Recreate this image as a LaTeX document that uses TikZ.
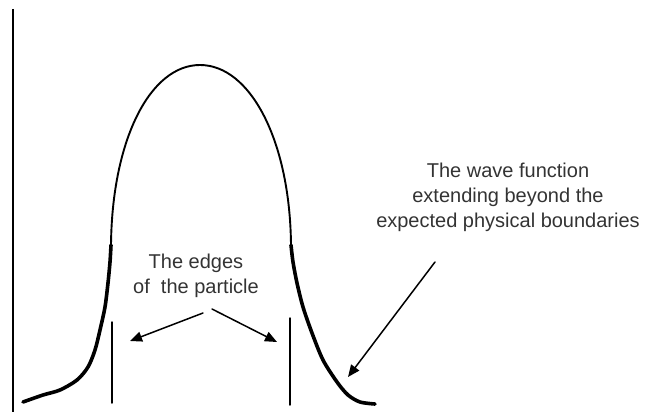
\documentclass[tikz,border=0pt]{standalone}
\usepackage{fontspec}
\setmainfont{Liberation Sans}
\usetikzlibrary{arrows.meta}

\begin{document}
\begin{tikzpicture}[x=1pt, y=-1pt, >={Triangle[length=12pt,width=10pt]}, line cap=round, line join=round]
	\tikzset{
		labeltext/.style={align=center, text=black!80, font=\fontsize{20}{25}\selectfont, inner sep=0pt},
		pointer/.style={->, line width=1.5pt},
		edgeline/.style={line width=1.5pt}
	}
	\useasboundingbox (0,0) rectangle (648,412);

	% === TRUC ===
	\draw[line width=1.8pt, line cap=butt] (13,9) -- (13,412);

	% === HAM SONG ===
	\draw[line width=3.6pt] plot[smooth, tension=0.5] coordinates {
		(23,402) (43,395) (60,390) (77,380) (88,367) (95,350) (100,330)
		(105,307) (108,283) (110,262) (111,245)
	};
	\draw[line width=1.9pt] (111,245) .. controls (112,140) and (150,65) .. (200,65)
		.. controls (250,65) and (290,140) .. (291,245);
	\draw[line width=3.6pt] plot[smooth, tension=0.5] coordinates {
		(291,245) (293,262) (297,283) (303,307) (312,333) (323,360)
		(337,382) (348,395) (360,402) (375,404)
	};

	% === MEP HAT ===
	\draw[edgeline] (112,322) -- (112,403);
	\draw[edgeline] (290,318) -- (290,405);

	% === NHAN ===
	\node[labeltext] (edges) at (196,276) {The edges\\of\ \ the particle};
	\node[labeltext] (wave) at (508,197) {The wave function\\extending beyond the\\expected physical boundaries};

	\coordinate (edgesL) at (203,313);
	\coordinate (edgesR) at (212,309);
	\coordinate (tipL) at (130,341);
	\coordinate (tipR) at (277,342);
	\coordinate (waveTail) at (435,262);
	\coordinate (waveTip) at (348,377);

	\draw[pointer] (edgesL) -- (tipL);
	\draw[pointer] (edgesR) -- (tipR);
	\draw[pointer] (waveTail) -- (waveTip);
\end{tikzpicture}
\end{document}
